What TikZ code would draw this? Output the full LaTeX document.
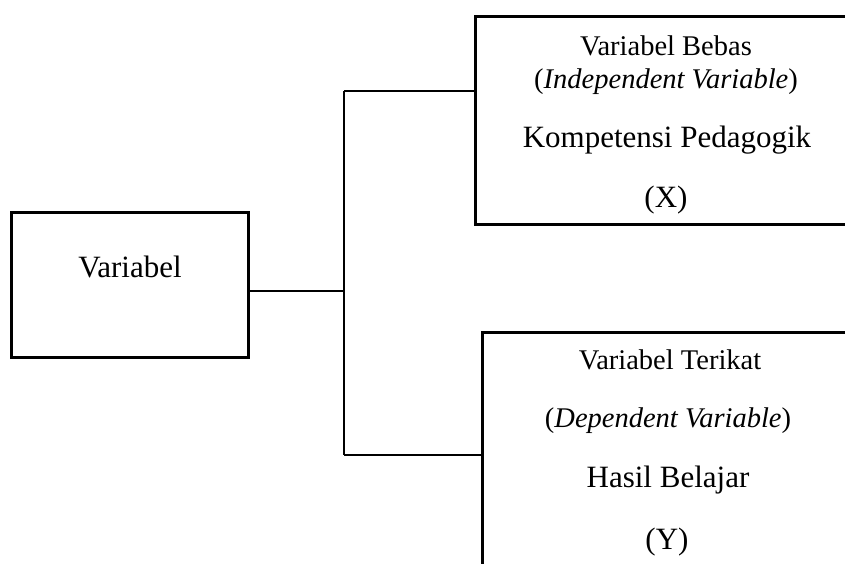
\documentclass[tikz,border=0pt]{standalone}
\usepackage{fontspec}
\setmainfont{Liberation Serif}
\usepackage{tikz}
\usetikzlibrary{positioning, calc}

\newcommand{\smalltxt}{\fontsize{28.5}{34}\selectfont}
\newcommand{\bigtxt}{\fontsize{31}{37}\selectfont}

\begin{document}
\begin{tikzpicture}[x=1pt, y=-1pt,
    varbox/.style={draw, line width=3pt, inner sep=0pt},
    wire/.style={line width=1.3pt},
    lbl/.style={anchor=base, inner sep=0pt}]
    \clip (0,0) rectangle (845,563);

    % boxes
    \node[varbox, minimum width=237pt, minimum height=145pt] (var) at (129.5,284.5) {};
    \node[varbox, minimum width=382pt, minimum height=208pt] (bebas) at (666,120) {};
    \node[varbox, minimum width=376pt, minimum height=238pt] (terikat) at (670,451) {};

    % texts
    \node[lbl, font=\bigtxt] (tvar) at (130,277) {Variabel};
    \node[lbl, font=\smalltxt] (tb1) at (666,55) {Variabel Bebas};
    \node[lbl, font=\smalltxt] (tb2) at (666,88) {(\textit{Independent Variable})};
    \node[lbl, font=\bigtxt] (tb3) at (667,147) {Kompetensi Pedagogik};
    \node[lbl, font=\bigtxt] (tb4) at (666,207) {(X)};
    \node[lbl, font=\smalltxt] (tt1) at (670,369) {Variabel Terikat};
    \node[lbl, font=\smalltxt] (tt2) at (668,427) {(\textit{Dependent Variable})};
    \node[lbl, font=\bigtxt] (tt3) at (668,487) {Hasil Belajar};
    \node[lbl, font=\bigtxt] (tt4) at (667,549) {(Y)};

    % connectors
    \coordinate (mid) at (344,291);
    \coordinate (up) at (344,91);
    \coordinate (down) at (344,455);
    \draw[wire] (var.east |- mid) -- (mid);
    \draw[wire] (up) -- (down);
    \draw[wire] (up) -- (bebas.west |- up);
    \draw[wire] (down) -- (terikat.west |- down);
\end{tikzpicture}
\end{document}
